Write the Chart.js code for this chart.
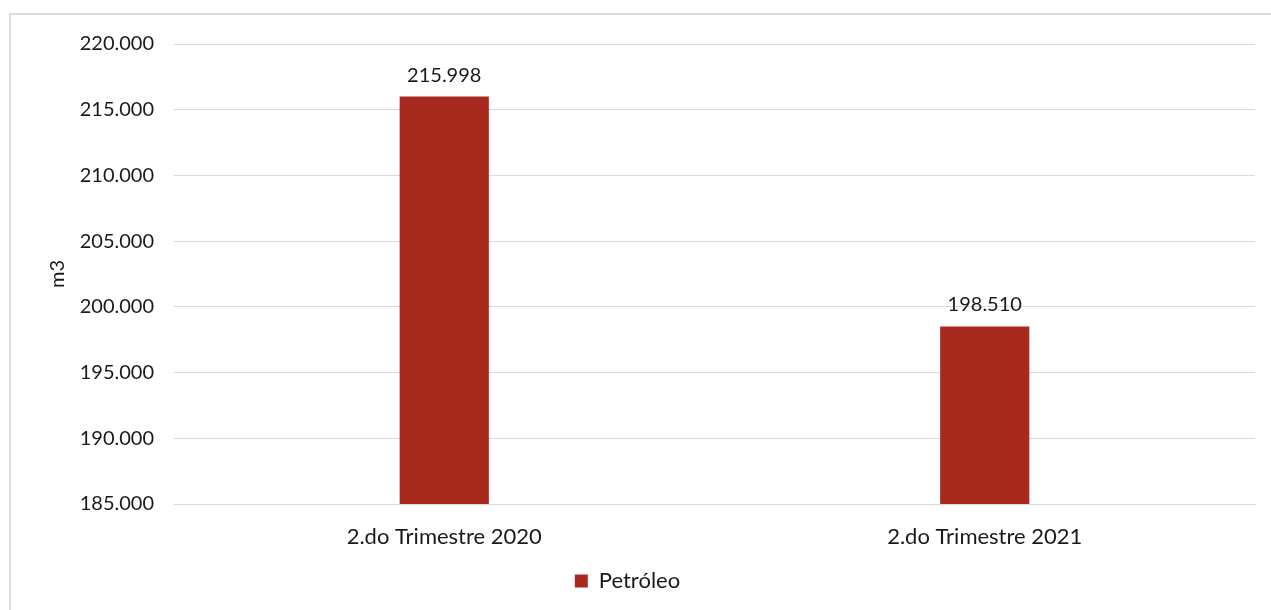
<!DOCTYPE html>
<html>
<head>
<meta charset="utf-8">
<script src="https://cdn.jsdelivr.net/npm/chart.js@4/dist/chart.umd.min.js"></script>
<style>
  html, body { margin: 0; padding: 0; background: #fff; }
  #wrap { position: relative; width: 1271px; height: 610px; overflow: hidden; }
  #frame { position: absolute; left: 9px; top: 13px; width: 1270px; height: 620px; border: 2px solid #d9d9d9; box-sizing: border-box; }
  canvas { position: absolute; left: 0; top: 0; }
</style>
</head>
<body>
<div id="wrap">
  <div id="frame"></div>
  <canvas id="chart" width="1271" height="610"></canvas>
</div>
<script>
const categories = ['2.do Trimestre 2020', '2.do Trimestre 2021'];
const petroleo = [215998, 198510];
const seriesName = 'Petróleo';
const yTitle = 'm3';

const fmtThousands = v => String(Math.round(v)).replace(/\B(?=(\d{3})+(?!\d))/g, '.');

const FONT = 'Lato, "Open Sans", sans-serif';
const SIZE = 20;
const WORD_SIZE = 22; // letters in the original font run wider
const TEXT = '#1a1a1a';

// labels above the bars
const valueLabels = {
    id: 'valueLabels',
    afterDatasetsDraw(chart) {
        const ctx = chart.ctx;
        ctx.save();
        ctx.font = SIZE + 'px ' + FONT;
        ctx.fillStyle = TEXT;
        ctx.textAlign = 'center';
        ctx.textBaseline = 'alphabetic';
        chart.getDatasetMeta(0).data.forEach((bar, i) => {
            ctx.fillText(fmtThousands(petroleo[i]), bar.x, bar.y - 15);
        });
        ctx.restore();
    }
};

new Chart(document.getElementById('chart'), {
    type: 'bar',
    data: {
        labels: categories,
        datasets: [{
            label: seriesName,
            data: petroleo,
            backgroundColor: '#a8291e',
            borderWidth: 0,
            barPercentage: 0.165,
            categoryPercentage: 1.0
        }]
    },
    options: {
        responsive: false,
        animation: false,
        layout: { padding: { top: 44, right: 16, left: 0, bottom: 8 } },
        plugins: {
            legend: {
                position: 'bottom',
                labels: {
                    color: TEXT,
                    font: { family: FONT, size: WORD_SIZE },
                    boxWidth: 13,
                    boxHeight: 13,
                    padding: 10
                }
            },
            tooltip: { enabled: false }
        },
        scales: {
            x: {
                grid: { display: false },
                border: { display: true, color: '#d9d9d9' },
                ticks: { color: TEXT, font: { family: FONT, size: WORD_SIZE }, padding: 12 },
                afterFit(scale) { scale.height = 56; }
            },
            y: {
                min: 185000,
                max: 220000,
                ticks: {
                    stepSize: 5000,
                    color: TEXT,
                    font: { family: FONT, size: SIZE },
                    padding: 20,
                    callback: v => fmtThousands(v)
                },
                grid: { color: '#d9d9d9', drawTicks: false },
                border: { display: false },
                title: {
                    display: true,
                    text: yTitle,
                    color: TEXT,
                    font: { family: FONT, size: SIZE },
                    padding: { top: 46, bottom: 0 }
                },
                afterFit(scale) { scale.width = 174; }
            }
        }
    },
    plugins: [valueLabels]
});
</script>
</body>
</html>
